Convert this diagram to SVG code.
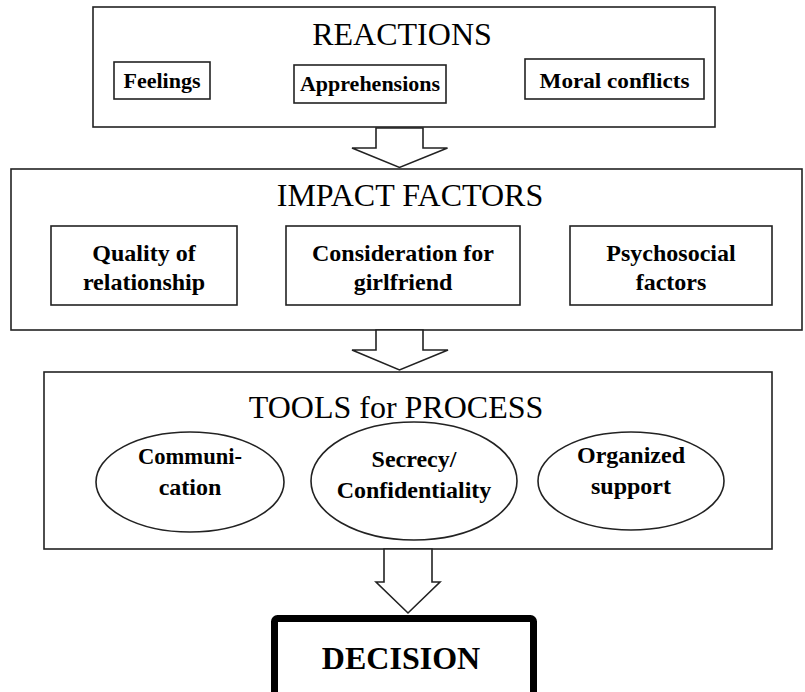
<svg xmlns="http://www.w3.org/2000/svg" width="805" height="692" viewBox="0 0 805 692">
<style>
.box{fill:#fff;stroke:#222;stroke-width:1.6}
.arr{fill:#fff;stroke:#222;stroke-width:1.6;stroke-linejoin:miter}
.title{font-family:"Liberation Serif","Times New Roman",serif;font-size:32px;fill:#000;text-anchor:middle}
.lbl{font-family:"Liberation Serif","Times New Roman",serif;font-size:24px;font-weight:bold;fill:#000;text-anchor:middle}
.sm{font-size:22px}
.dec{font-family:"Liberation Serif","Times New Roman",serif;font-size:32px;font-weight:bold;fill:#000;text-anchor:middle}
</style>
<rect width="805" height="692" fill="#fff"/>
<g id="reactions">
<rect class="box" x="93" y="7" width="622" height="120"/>
<text class="title" x="402" y="45">REACTIONS</text>
</g>
<g id="feelings">
<rect class="box" x="114" y="62" width="96" height="37"/>
<text class="lbl sm" x="162" y="88">Feelings</text>
</g>
<g id="apprehensions">
<rect class="box" x="294" y="65" width="152" height="38"/>
<text class="lbl sm" x="370" y="91">Apprehensions</text>
</g>
<g id="moral">
<rect class="box" x="525" y="59" width="179" height="40"/>
<text class="lbl sm" x="614.5" y="88" textLength="150" lengthAdjust="spacingAndGlyphs">Moral conflicts</text>
</g>
<g id="impact">
<rect class="box" x="11" y="169" width="791" height="161"/>
<text class="title" x="410" y="206">IMPACT FACTORS</text>
</g>
<g id="quality">
<rect class="box" x="51" y="226" width="186" height="79"/>
<text class="lbl" x="144" y="261">Quality of</text>
<text class="lbl" x="144" y="290">relationship</text>
</g>
<g id="consideration">
<rect class="box" x="286" y="226" width="234" height="79"/>
<text class="lbl" x="403" y="261">Consideration for</text>
<text class="lbl" x="403" y="290">girlfriend</text>
</g>
<g id="psychosocial">
<rect class="box" x="570" y="226" width="202" height="79"/>
<text class="lbl" x="671" y="261">Psychosocial</text>
<text class="lbl" x="671" y="290">factors</text>
</g>
<g id="tools">
<rect class="box" x="44" y="372" width="728" height="177"/>
<text class="title" x="396" y="418">TOOLS for PROCESS</text>
</g>
<g id="communication">
<ellipse class="box" cx="190" cy="482" rx="94" ry="50"/>
<text class="lbl" x="190" y="464" textLength="104" lengthAdjust="spacingAndGlyphs">Communi-</text>
<text class="lbl" x="190" y="495">cation</text>
</g>
<g id="secrecy">
<ellipse class="box" cx="414" cy="481" rx="103" ry="59"/>
<text class="lbl" x="414" y="467">Secrecy/</text>
<text class="lbl" x="414" y="498">Confidentiality</text>
</g>
<g id="organized">
<ellipse class="box" cx="631" cy="481" rx="93" ry="49"/>
<text class="lbl" x="631" y="463">Organized</text>
<text class="lbl" x="631" y="494">support</text>
</g>
<g id="decision">
<rect x="274.5" y="618.5" width="259" height="80" rx="3" fill="#fff" stroke="#000" stroke-width="7"/>
<text class="dec" x="401" y="669">DECISION</text>
</g>
<g id="connectors">
<polygon class="arr" points="376,128 376,148 352,148 399.5,167.5 447.5,148 423,148 423,128"/>
<polygon class="arr" points="376,330 376,350 352,350 399.5,370 448,350 423,350 423,330"/>
<polygon class="arr" points="384,549 384,582 376,582 408,613 440,582 432,582 432,549"/>
</g>
</svg>
